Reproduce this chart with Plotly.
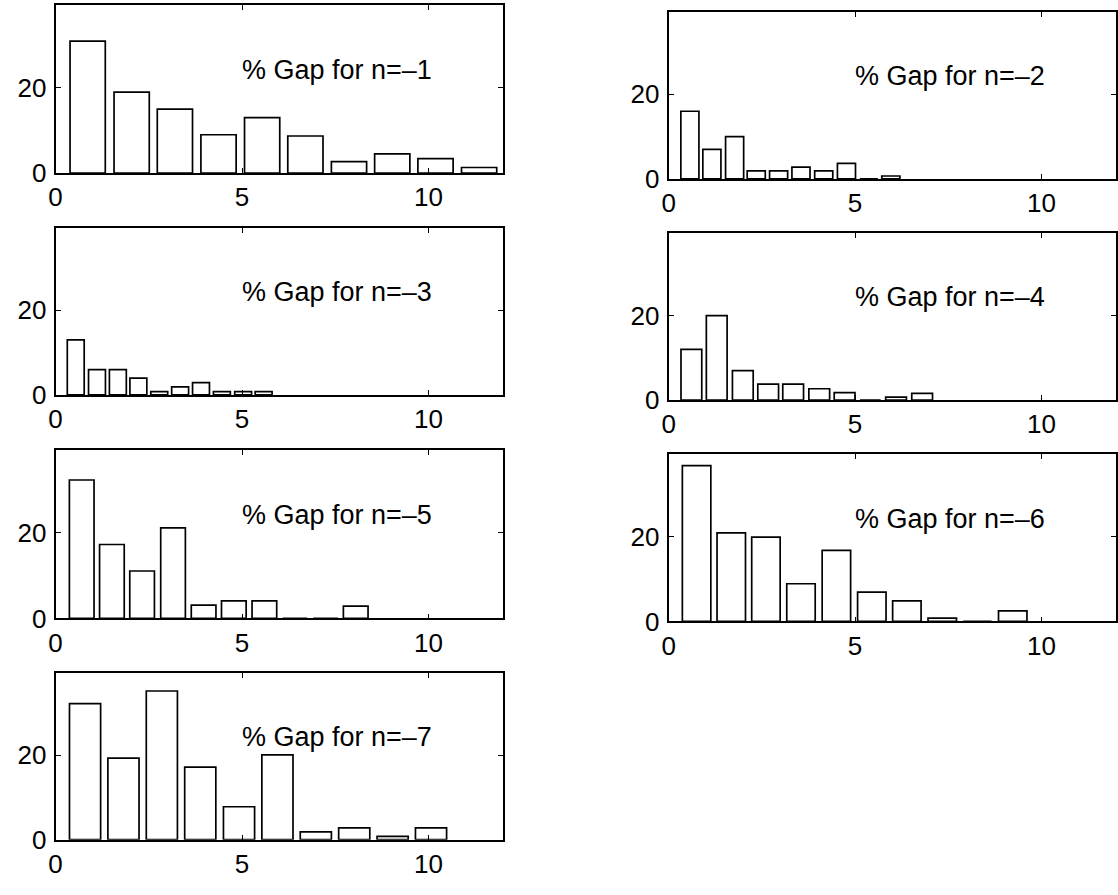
import plotly.graph_objects as go

# ---- data ----
labels = ["% Gap for n=–1", "% Gap for n=–2", "% Gap for n=–3", "% Gap for n=–4",
          "% Gap for n=–5", "% Gap for n=–6", "% Gap for n=–7"]

centers_1 = [0.86, 2.04, 3.20, 4.37, 5.54, 6.70, 7.87, 9.03, 10.19, 11.36]
values_1 = [31, 19, 15, 9, 13, 8.7, 2.7, 4.5, 3.4, 1.3]

centers_2 = [0.57, 1.16, 1.77, 2.35, 2.95, 3.55, 4.16, 4.77, 5.37, 5.96]
values_2 = [16, 7, 10, 1.9, 1.9, 2.8, 1.9, 3.7, 0, 0.7]

centers_3 = [0.54, 1.11, 1.67, 2.22, 2.78, 3.34, 3.90, 4.46, 5.03, 5.58]
values_3 = [13, 6, 6, 4, 0.8, 1.9, 2.9, 0.8, 0.8, 0.8]

centers_4 = [0.61, 1.29, 1.99, 2.67, 3.34, 4.04, 4.72, 5.41, 6.10, 6.80]
values_4 = [12, 20, 7, 3.8, 3.8, 2.7, 1.8, 0, 0.7, 1.6]

centers_5 = [0.70, 1.51, 2.32, 3.15, 3.97, 4.78, 5.60, 6.42, 7.24, 8.05]
values_5 = [32.4, 17.3, 11.1, 21.2, 3.1, 4.1, 4.1, 0, 0, 2.9]

centers_6 = [0.75, 1.68, 2.61, 3.55, 4.50, 5.45, 6.39, 7.34, 8.28, 9.23]
values_6 = [36.8, 20.9, 19.9, 8.9, 16.8, 6.9, 4.85, 0.8, 0, 2.5]

centers_7 = [0.79, 1.82, 2.85, 3.88, 4.92, 5.95, 6.98, 8.01, 9.04, 10.07]
values_7 = [32.2, 19.3, 35.2, 17.2, 7.8, 20.1, 1.85, 2.8, 0.8, 2.8]

x_ticks = [0, 5, 10]
y_ticks = [0, 20]

centers = [centers_1, centers_2, centers_3, centers_4, centers_5, centers_6, centers_7]
values = [values_1, values_2, values_3, values_4, values_5, values_6, values_7]

# ---- layout geometry (pixels of the 1118x895 page) ----
W, H = 1118, 895
left_col = (49, 500)
right_col = (667, 1118)
left_rows = [(5, 176), (231.7, 401.7), (457.3, 629), (684.3, 854)]
right_rows = [(12, 182), (237, 407), (462, 632)]

panel_boxes = []
for i in range(7):
    if i % 2 == 0:
        xs = left_col
        ys = left_rows[i // 2]
    else:
        xs = right_col
        ys = right_rows[i // 2]
    panel_boxes.append(xs + ys)

FONT = "Liberation Sans, Arial, Helvetica, sans-serif"

fig = go.Figure()
layout = dict(
    width=W, height=H,
    margin=dict(l=0, r=0, t=0, b=0),
    paper_bgcolor="white", plot_bgcolor="white",
    showlegend=False,
    font=dict(family=FONT, size=26, color="black"),
    annotations=[],
)

for i in range(7):
    n = i + 1
    sfx = "" if n == 1 else str(n)
    cx = centers[i]
    spacing = (cx[-1] - cx[0]) / (len(cx) - 1)
    fig.add_trace(go.Bar(
        x=cx, y=values[i],
        width=0.81 * spacing,
        marker=dict(color="white", line=dict(color="black", width=1.7)),
        xaxis="x" + sfx, yaxis="y" + sfx,
        hoverinfo="x+y",
    ))
    x0, x1, y0, y1 = panel_boxes[i]
    axis_common = dict(
        showline=True, linecolor="black", linewidth=1.8, mirror="ticks",
        ticks="inside", ticklen=5, tickwidth=1.2, tickcolor="black",
        showgrid=False, zeroline=False, fixedrange=True,
        tickfont=dict(family=FONT, size=26, color="black"),
    )
    layout["xaxis" + sfx] = dict(
        axis_common,
        domain=[x0 / W, min(x1 / W, 1.0)], anchor="y" + sfx,
        range=[0, 12], tickvals=x_ticks, ticktext=[str(t) for t in x_ticks],
        ticklabelstandoff=0,
    )
    layout["yaxis" + sfx] = dict(
        axis_common,
        domain=[1 - y1 / H, 1 - y0 / H], anchor="x" + sfx,
        range=[0, 39.5], tickvals=y_ticks, ticktext=[str(t) for t in y_ticks],
        ticklabelstandoff=2,
    )
    layout["annotations"].append(dict(
        text=labels[i], x=4.95, y=24.3, xref="x" + sfx, yref="y" + sfx,
        xanchor="left", yanchor="middle", showarrow=False,
        font=dict(family=FONT, size=27, color="black"),
    ))

fig.update_layout(**layout)
fig.write_html(
    "out.html",
    config={"displayModeBar": False},
    post_script="document.body.style.margin='0px';document.body.style.overflow='hidden';",
)
